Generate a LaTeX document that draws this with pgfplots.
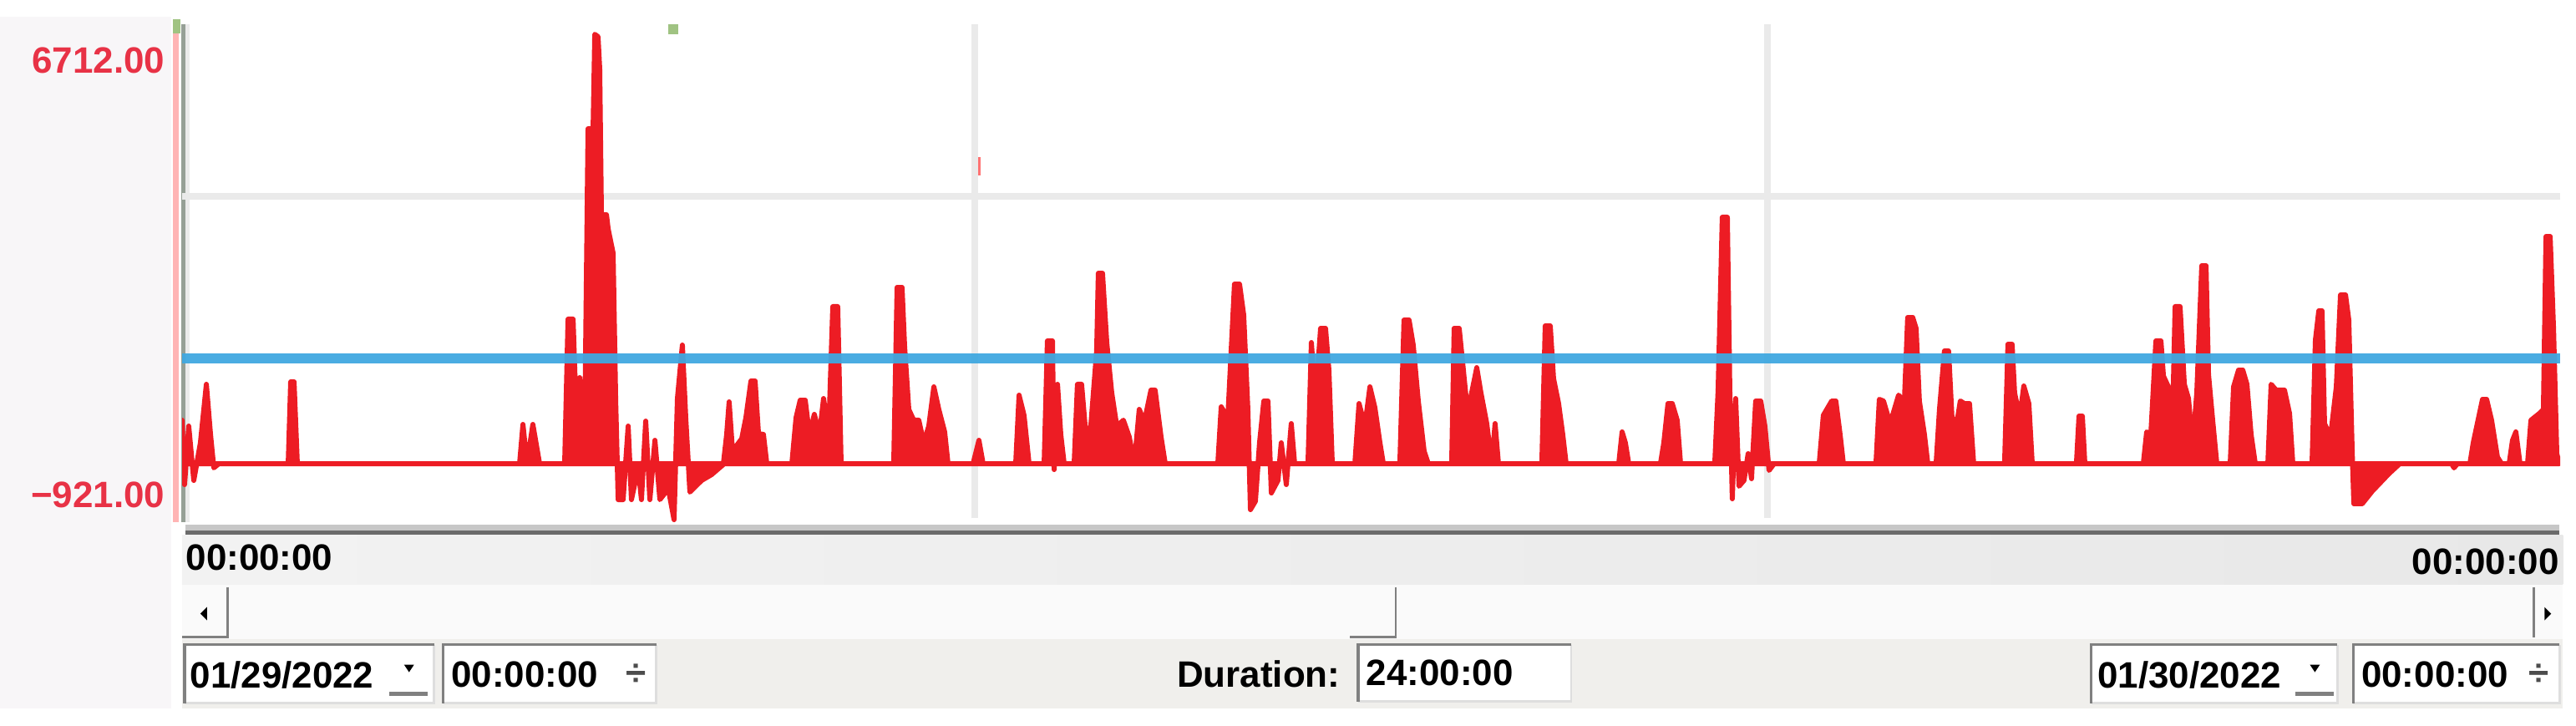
\documentclass[border=0pt]{standalone}
\usepackage{fontspec}
\setmainfont{Liberation Sans}
\usepackage{pgfplots}
\pgfplotsset{compat=1.18}

\definecolor{plotred}{RGB}{237,28,36}
\definecolor{labred}{RGB}{232,50,70}
\definecolor{lineblue}{RGB}{64,168,224}
\definecolor{gridgray}{RGB}{234,234,234}
\definecolor{panelbg}{RGB}{248,246,248}
\definecolor{axpink}{RGB}{255,180,180}
\definecolor{axgray}{RGB}{150,160,150}
\definecolor{boxdark}{RGB}{128,128,128}
\definecolor{boxlight}{RGB}{222,222,222}
\definecolor{rowbg}{RGB}{240,239,236}
\definecolor{marker}{RGB}{160,195,130}

\newcommand{\uifont}{\fontsize{12.5pt}{14pt}\selectfont\bfseries}

\begin{document}
\begin{tikzpicture}
\path[use as bounding box] (0,0) rectangle (30.84,8.68);

% window furniture, drawn in pixel units of the screenshot
\begin{scope}[x=0.01cm, y=-0.01cm, shift={(0cm,8.68cm)}]
  \fill[panelbg] (0,20) rectangle (205,848);
  \fill[axpink] (207,23) rectangle (214,625);
  \fill[marker] (207,23) rectangle (216,40);
  \fill[axgray] (217,29) rectangle (222,625);
  \fill[black!8] (222,29) rectangle (227,625);
  \fill[black!22] (222,628) rectangle (3066,635);
  \fill[black!58] (222,635) rectangle (3066,641);
  \fill[marker] (800,29) rectangle (812,41);
  \fill[red!55] (1165,188) rectangle (1175,210);

  \node[anchor=east, text=labred, inner sep=0pt] at (198,72) {\uifont 6712.00};
  \node[anchor=east, text=labred, inner sep=0pt] at (198,593) {\uifont −921.00};

  % time row
  \shade[left color=black!5, right color=black!9] (218,641) rectangle (3070,700);
  \node[anchor=west, inner sep=0pt] at (222,668) {\uifont 00:00:00};
  \node[anchor=east, inner sep=0pt] at (3066,673) {\uifont 00:00:00};

  % scroll bar
  \fill[black!2] (218,700) rectangle (3070,765);
  \draw[boxdark, line width=0.8pt] (273,703) -- (273,763) -- (218,763);
  \fill[black] (240,735) -- (248,727) -- (248,743) -- cycle;
  \draw[boxdark, line width=0.8pt] (1672,703) -- (1672,763) -- (1617,763);
  \draw[boxdark, line width=0.8pt] (3035,703) -- (3035,763);
  \fill[black] (3056,735) -- (3048,727) -- (3048,743) -- cycle;

  % date row
  \fill[rowbg] (218,765) rectangle (3070,848);
  \foreach \a/\b/\c/\d in {221/772/520/842, 531/772/786/842, 1627/772/1882/840, 2505/772/2800/842, 2819/772/3066/842}{
    \fill[white] (\a,\b) rectangle (\c,\d);
    \draw[boxlight, line width=0.8pt] (\c,\b) -- (\c,\d) -- (\a,\d);
    \draw[boxdark, line width=1pt] (\a,\d) -- (\a,\b) -- (\c,\b);
  }
  \node[anchor=west, inner sep=0pt] at (227,808) {\uifont 01/29/2022};
  \fill[black] (484,796) -- (496,796) -- (490,805) -- cycle;
  \fill[boxdark] (466,828) rectangle (512,833);
  \node[anchor=west, inner sep=0pt] at (540,808) {\uifont 00:00:00};
  \node[inner sep=0pt, text=black!70] at (762,808) {\uifont ÷};
  \node[anchor=east, inner sep=0pt] at (1606,807) {\uifont Duration:};
  \node[anchor=west, inner sep=0pt] at (1636,806) {\uifont 24:00:00};
  \node[anchor=west, inner sep=0pt] at (2512,808) {\uifont 01/30/2022};
  \fill[black] (2767,796) -- (2779,796) -- (2773,805) -- cycle;
  \fill[boxdark] (2750,828) rectangle (2796,833);
  \node[anchor=west, inner sep=0pt] at (2828,808) {\uifont 00:00:00};
  \node[inner sep=0pt, text=black!70] at (3041,808) {\uifont ÷};
\end{scope}

\begin{axis}[
  at={(2.18cm,2.31cm)}, anchor=south west,
  width=28.47cm, height=6.08cm, scale only axis,
  xmin=0, xmax=24, ymin=-1119, ymax=6870,
  axis line style={draw=none},
  xtick=\empty, ytick={4163},
  yticklabels={},
  major tick length=0pt,
  ymajorgrids,
  major grid style={line width=0.08cm, color=gridgray},
]
\draw[gridgray, line width=0.08cm] (axis cs:8,-900) -- (axis cs:8,6870);
\draw[gridgray, line width=0.08cm] (axis cs:16,-900) -- (axis cs:16,6870);
\addplot[plotred, fill=plotred, line width=0.06cm, line join=round] coordinates {
(0,-42) (0,642) (0.025,-370) (0.067,550) (0.118,-305) (0.185,287) (0.245,1207) (0.287,418) (0.320,-107) (0.371,-42)
(1.071,-42) (1.096,1246) (1.130,1246) (1.163,-42)
(3.406,-42) (3.440,576) (3.481,-42) (3.540,576) (3.608,-42)
(3.861,-42) (3.895,2232) (3.946,2232) (3.979,681) (4.013,1312) (4.063,418) (4.097,5227) (4.148,5227)
(4.165,6712) (4.198,6673) (4.215,6160) (4.232,3874) (4.283,3874) (4.300,3651) (4.350,3270) (4.376,944)
(4.401,-607) (4.451,-607) (4.502,550) (4.535,-607) (4.603,-107) (4.636,-607) (4.679,628) (4.721,-607)
(4.772,326) (4.822,-607) (4.907,-436) (4.965,-922) (4.999,983) (5.049,1824) (5.083,681) (5.125,-488)
(5.243,-305) (5.344,-213) (5.462,-55) (5.496,418) (5.521,931) (5.555,155) (5.648,352) (5.690,681)
(5.741,1259) (5.783,1259) (5.817,431) (5.867,418) (5.901,-42)
(6.154,-42) (6.196,681) (6.238,957) (6.289,957) (6.331,418) (6.381,734) (6.432,418) (6.474,983) (6.525,418)
(6.567,2429) (6.617,2429) (6.651,-42)
(7.182,-42) (7.216,2731) (7.266,2731) (7.292,1798) (7.334,812) (7.384,642) (7.435,642) (7.485,287)
(7.536,550) (7.587,1167) (7.637,812) (7.696,458) (7.730,-42)
(7.983,-42) (8.042,326) (8.084,-42)
(8.413,-42) (8.447,1036) (8.497,720) (8.548,-42)
(8.700,-42) (8.733,1890) (8.784,1890) (8.801,-134) (8.835,1207) (8.868,418) (8.902,-42)
(9.003,-42) (9.036,1207) (9.078,1207) (9.121,418) (9.171,550) (9.230,1732) (9.247,2954) (9.289,2954)
(9.332,1864) (9.382,1075) (9.433,550) (9.500,642) (9.559,379) (9.610,-42) (9.660,812) (9.711,615)
(9.778,1115) (9.820,1115) (9.880,379) (9.922,-42)
(10.453,-42) (10.487,852) (10.554,681) (10.621,2783) (10.672,2783) (10.714,2297) (10.756,812)
(10.782,-764) (10.832,-633) (10.874,287) (10.917,944) (10.959,944) (10.993,-502) (11.060,-305)
(11.093,287) (11.144,-370) (11.194,589) (11.228,-42)
(11.363,-42) (11.397,1864) (11.439,944) (11.490,2087) (11.540,2087) (11.574,1430) (11.608,-42)
(11.836,-42) (11.878,904) (11.937,550) (11.988,1167) (12.038,839) (12.089,287) (12.123,-42)
(12.290,-42) (12.332,2218) (12.383,2218) (12.425,1824) (12.476,944) (12.535,155) (12.577,-42)
(12.813,-42) (12.838,2087) (12.889,2087) (12.931,1430) (12.973,773) (13.015,1075) (13.066,1469)
(13.108,1075) (13.167,589) (13.218,-42) (13.251,589) (13.285,-42)
(13.723,-42) (13.757,2126) (13.808,2126) (13.841,1299) (13.892,904) (13.934,418) (13.968,-42)
(14.499,-42) (14.533,458) (14.566,287) (14.600,-42)
(14.920,-42) (14.954,287) (14.996,904) (15.039,904) (15.089,642) (15.123,-42)
(15.468,-42) (15.502,1115) (15.544,3835) (15.595,3835) (15.620,1115) (15.645,-594) (15.679,983)
(15.713,-396) (15.763,-305) (15.805,116) (15.839,-278) (15.881,944) (15.932,944) (15.974,550)
(16.016,-147) (16.067,-42)
(16.522,-42) (16.564,720) (16.648,944) (16.690,944) (16.733,418) (16.766,-42)
(17.095,-42) (17.129,970) (17.171,944) (17.238,589) (17.323,1036) (17.382,944) (17.415,2258)
(17.466,2258) (17.500,2087) (17.533,944) (17.584,418) (17.618,-42)
(17.702,-42) (17.736,812) (17.786,1732) (17.828,1732) (17.862,681) (17.913,615) (17.946,944)
(17.988,904) (18.039,904) (18.081,-42)
(18.393,-42) (18.427,1837) (18.469,1837) (18.494,1075) (18.545,681) (18.587,1180) (18.638,904) (18.672,-42)
(19.118,-42) (19.144,707) (19.178,707) (19.203,-42)
(19.793,-42) (19.827,458) (19.869,418) (19.920,1890) (19.971,1890) (19.996,1338) (20.046,1167)
(20.088,615) (20.114,2429) (20.164,2429) (20.207,1207) (20.249,983) (20.291,247) (20.333,1075)
(20.383,3072) (20.426,3072) (20.451,1364) (20.493,642) (20.535,-42)
(20.670,-42) (20.704,1167) (20.754,1430) (20.797,1430) (20.839,1207) (20.881,418) (20.923,-42)
(21.050,-42) (21.083,1207) (21.134,1115) (21.218,1115) (21.269,747) (21.302,-42)
(21.496,-42) (21.530,1903) (21.564,2363) (21.597,2363) (21.622,589) (21.682,379) (21.741,1167)
(21.783,2613) (21.834,2613) (21.867,2218) (21.901,155) (21.918,-672) (22.002,-672) (22.103,-475)
(22.272,-199) (22.381,-42)
(22.904,-42) (22.929,-107) (22.963,-42)
(23.089,-42) (23.123,287) (23.216,970) (23.258,970) (23.308,642) (23.367,63) (23.409,-42)
(23.485,-42) (23.519,326) (23.553,458) (23.595,-42)
(23.671,-42) (23.705,642) (23.789,747) (23.831,812) (23.857,3532) (23.899,3532) (23.933,2087)
(23.966,116) (23.992,-42)
} -- cycle;
\addplot[lineblue, line width=0.12cm, opacity=0.95] coordinates {(0,1614) (24,1614)};
\end{axis}
\end{tikzpicture}
\end{document}
